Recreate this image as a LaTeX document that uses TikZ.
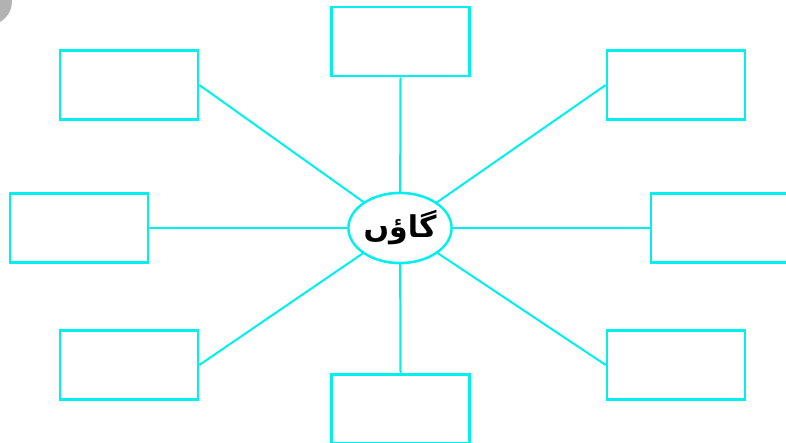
\documentclass[tikz,border=0pt]{standalone}
\usepackage{fontspec}
\usetikzlibrary{shapes.geometric}
\newfontfamily\arabicfont[Script=Arabic]{DejaVu Sans}
\TeXXeTstate=1
\definecolor{cyanline}{RGB}{0,240,240}
\definecolor{greyblob}{RGB}{178,178,178}
\tikzset{
  box/.style={draw=cyanline, line width=2.6pt, rectangle, minimum width=138pt, minimum height=69pt, inner sep=0pt},
  link/.style={draw=cyanline, line width=2pt},
  hub/.style={draw=cyanline, line width=2.4pt, ellipse, minimum width=101pt, minimum height=70pt, inner sep=0pt, fill=white}
}
\begin{document}
\begin{tikzpicture}[x=1pt,y=-1pt]
\useasboundingbox (0,0) rectangle (786,443);
\clip (0,0) rectangle (786,443);
\fill[greyblob] (-11.6,1.4) circle (23.6);
\node[box] (t)  at (400.5,41.5) {};
\node[box] (tl) at (129,85) {};
\node[box] (tr) at (676,85) {};
\node[box] (l)  at (79,228) {};
\node[box] (r)  at (720,228) {};
\node[box] (bl) at (129,365) {};
\node[box] (br) at (676,365) {};
\node[box] (b)  at (400.5,409) {};
\node[hub] (c) at (400,228) {};
\draw[link] (t.south) -- (c);
\draw[link] (tl.east) -- (c);
\draw[link] (tr.west) -- (c);
\draw[link] (l.east) -- (c);
\draw[link] (c) -- (r.west);
\draw[link] (bl.east) -- (c);
\draw[link] (br.west) -- (c);
\draw[link] (c) -- (b.north);
\node[hub] (c) at (400,228) {\fontsize{30}{34}\selectfont\bfseries\arabicfont\beginR گاؤں\endR};
\end{tikzpicture}
\end{document}
